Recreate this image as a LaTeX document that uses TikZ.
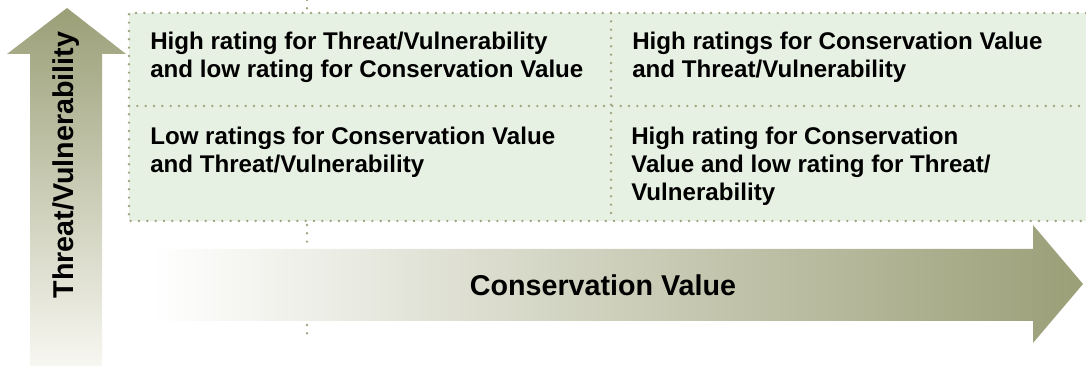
\documentclass[tikz,border=0pt]{standalone}
\usepackage{fontspec}
\setmainfont{Liberation Sans}
\definecolor{cellfill}{HTML}{E7F1E3}
\definecolor{dotgrey}{HTML}{9FA37F}
\definecolor{olive}{HTML}{9B9F77}
\definecolor{paleolive}{HTML}{F7F7F1}
\begin{document}
\begin{tikzpicture}[x=0.75pt, y=-0.75pt,
    dotline/.style={draw=dotgrey, line width=2pt, line cap=round, dash pattern=on 0pt off 6.25pt},
    cell/.style={anchor=north west, inner sep=0pt, align=left, font=\fontsize{18.1}{21}\selectfont\bfseries},
    axis/.style={anchor=base, inner sep=0pt, font=\fontsize{21.5}{24}\selectfont\bfseries}]
    \useasboundingbox (0, 0) rectangle (1086, 366);

    \draw[dotline] (307, 0) -- (307, 334);
    \fill[cellfill] (129, 13) rectangle (1086, 221);
    \draw[dotline] (1086, 13) -- (129, 13) -- (129, 221) -- (1086, 221);
    \draw[dotline] (129, 106) -- (1086, 106);
    \draw[dotline] (611, 13) -- (611, 221);

    \shade[top color=olive, bottom color=paleolive] (30, 366) -- (30, 54) -- (7, 54) -- (67, 8)
        -- (126, 54) -- (102, 54) -- (102, 366) -- cycle;
    \shade[left color=white, right color=olive] (152, 249) -- (1033, 249) -- (1033, 225) -- (1083, 284)
        -- (1033, 343) -- (1033, 321) -- (152, 321) -- cycle;

    \node[cell] (hitlc) at (150, 32) {High rating for Threat/Vulnerability\\and low rating for Conservation Value};
    \node[cell] (hihi) at (632, 32) {High ratings for Conservation Value\\and Threat/Vulnerability};
    \node[cell] (lolo) at (150, 126.5) {Low ratings for Conservation Value\\and Threat/Vulnerability};
    \node[cell] (hclt) at (631, 126.5) {High rating for Conservation\\Value and low rating for Threat/\\Vulnerability};

    \node[axis] (cv) at (603, 296) {Conservation Value};
    \node[axis, rotate=90] (tv) at (73, 165) {Threat/Vulnerability};
\end{tikzpicture}
\end{document}
